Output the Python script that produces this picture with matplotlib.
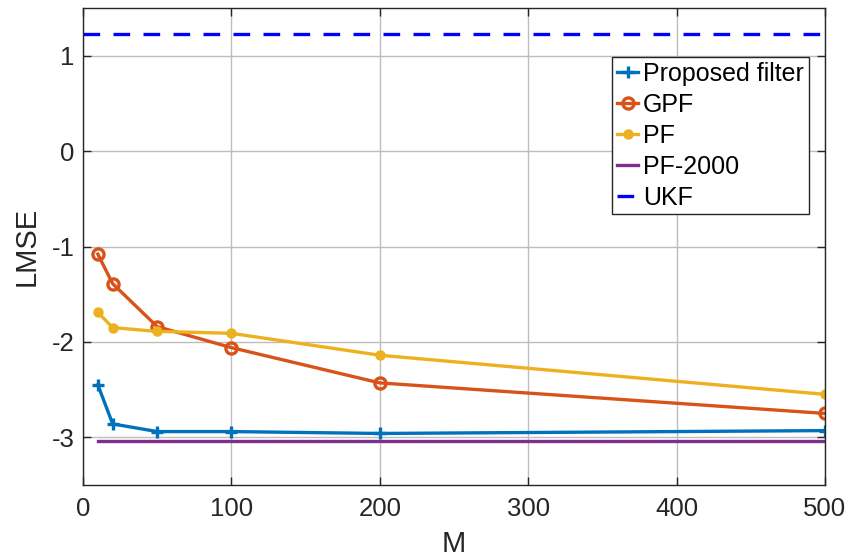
import matplotlib
matplotlib.use("Agg")
import matplotlib.pyplot as plt

M = [10, 20, 50, 100, 200, 500]
proposed = [-2.45, -2.86, -2.94, -2.94, -2.96, -2.93]
gpf = [-1.08, -1.39, -1.84, -2.06, -2.43, -2.75]
pf = [-1.69, -1.85, -1.89, -1.91, -2.14, -2.55]
pf2000_x = [10, 500]
pf2000 = [-3.04, -3.04]
ukf_x = [0, 500]
ukf = [1.23, 1.23]

plt.rcParams['font.family'] = ['Liberation Sans', 'DejaVu Sans']
plt.rcParams['axes.unicode_minus'] = False

fig = plt.figure(figsize=(8.46, 5.57), dpi=100)
ax = fig.add_axes([0.0981, 0.1293, 0.877, 0.8563])

ax.plot(M, proposed, '-+', color='#0072BD', lw=2.4, ms=9, mew=2.4, label='Proposed filter')
ax.plot(M, gpf, '-o', color='#D95319', lw=2.4, ms=8, mew=2.4, mfc='none', label='GPF')
ax.plot(M, pf, '-o', color='#EDB120', lw=2.4, ms=6.5, mew=1, label='PF')
ax.plot(pf2000_x, pf2000, '-', color='#7E2F8E', lw=2.4, label='PF-2000')
ax.plot(ukf_x, ukf, '--', color='#0000FF', lw=2.4, dashes=(5, 4), label='UKF')

ax.set_xlim(0, 500)
ax.set_ylim(-3.5, 1.5)
ax.set_xticks([0, 100, 200, 300, 400, 500])
ax.set_yticks([-3, -2, -1, 0, 1])
ax.grid(True, color='#BDBDBD', lw=1)
ax.set_axisbelow(True)
ax.tick_params(direction='in', length=6, width=1, colors='#262626', labelsize=18.5,
               top=True, right=True)
ax.tick_params(axis='x', pad=9)
ax.tick_params(axis='y', pad=6)
for s in ax.spines.values():
    s.set_color('#262626')
    s.set_linewidth(1)
ax.set_xlabel('M', fontsize=21, color='#262626', labelpad=6)
ax.set_ylabel('LMSE', fontsize=21, color='#262626', labelpad=8)

leg = ax.legend(loc='upper right', bbox_to_anchor=(0.978, 0.897), fontsize=18,
                frameon=True, fancybox=False, edgecolor='#262626', framealpha=1,
                handlelength=0.85, handletextpad=0.2, borderpad=0.18, labelspacing=0.28,
                borderaxespad=0)
leg.get_frame().set_linewidth(1)

fig.savefig('out.png', dpi=100)
